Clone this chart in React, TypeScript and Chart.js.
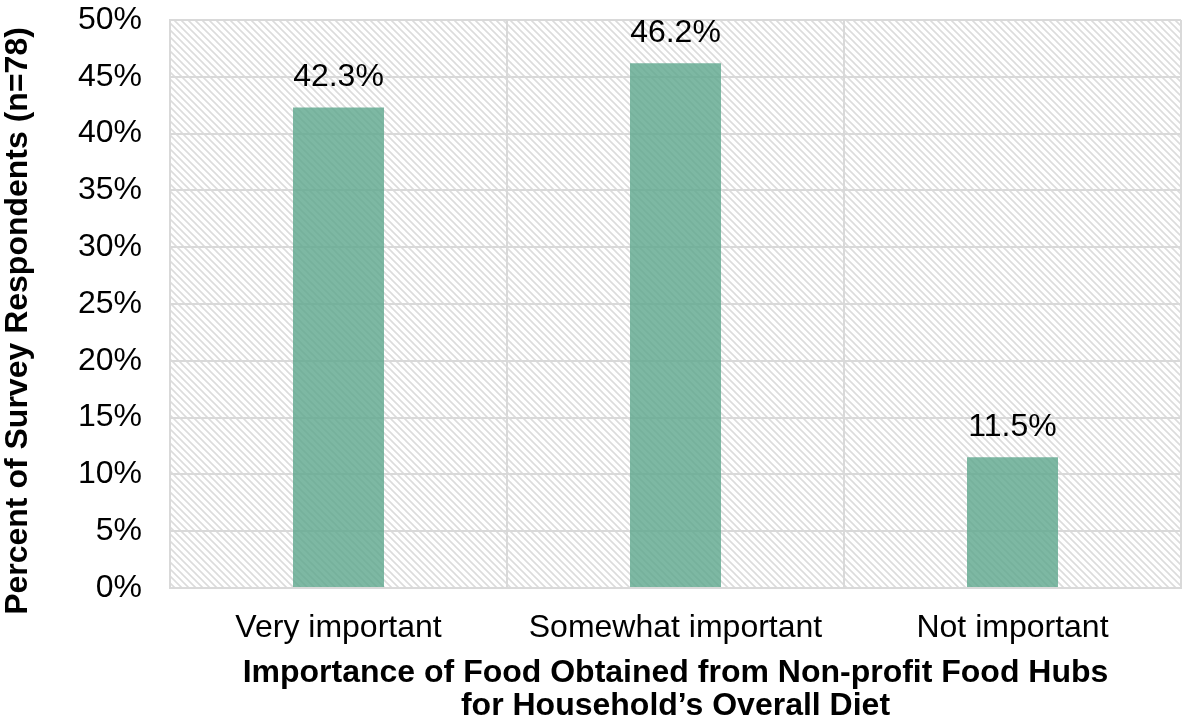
import React, { useEffect, useRef } from "react";
import { Chart, registerables } from "chart.js";

Chart.register(...registerables);

const categories = ["Very important", "Somewhat important", "Not important"];
const values = [42.3, 46.2, 11.5];
const yTicks = [0, 5, 10, 15, 20, 25, 30, 35, 40, 45, 50];
const yTitle = "Percent of Survey Respondents (n=78)";
const xTitle = ["Importance of Food Obtained from Non-profit Food Hubs", "for Household\u2019s Overall Diet"];

const FONT = "'Liberation Sans', Arial, Helvetica, sans-serif";
const FS = 32;

function makeHatch(): CanvasPattern | string {
  const size = 7;
  const c = document.createElement("canvas");
  c.width = size;
  c.height = size;
  const ctx = c.getContext("2d");
  if (!ctx) return "#fff";
  ctx.fillStyle = "#ffffff";
  ctx.fillRect(0, 0, size, size);
  ctx.strokeStyle = "#dcdcdc";
  ctx.lineWidth = 1.6;
  ctx.beginPath();
  for (let k = -1; k <= 1; k++) {
    ctx.moveTo(k * size - 2, -2);
    ctx.lineTo(k * size + size + 2, size + 2);
  }
  ctx.stroke();
  const p = ctx.createPattern(c, "repeat");
  return p || "#fff";
}

export default function App() {
  const ref = useRef<HTMLCanvasElement>(null);
  useEffect(() => {
    document.body.style.margin = "0";
    if (!ref.current) return;
    const hatch = makeHatch();
    const bgPlugin = {
      id: "hatchBg",
      beforeDraw(chart: any) {
        const { ctx, chartArea } = chart;
        ctx.save();
        ctx.fillStyle = hatch;
        ctx.fillRect(chartArea.left, chartArea.top, chartArea.right - chartArea.left, chartArea.bottom - chartArea.top);
        ctx.restore();
      },
    };
    const labelPlugin = {
      id: "valLabels",
      afterDatasetsDraw(chart: any) {
        const { ctx } = chart;
        const meta = chart.getDatasetMeta(0);
        ctx.save();
        ctx.font = `${FS}px ${FONT}`;
        ctx.fillStyle = "#000";
        ctx.textAlign = "center";
        ctx.textBaseline = "alphabetic";
        meta.data.forEach((bar: any, i: number) => {
          ctx.fillText(values[i].toFixed(1) + "%", bar.x, bar.y - 21);
        });
        ctx.restore();
      },
    };
    const yTitlePlugin = {
      id: "yTitleText",
      afterDraw(chart: any) {
        const { ctx } = chart;
        ctx.save();
        ctx.translate(27, 321);
        ctx.rotate(-Math.PI / 2);
        ctx.font = `bold ${FS}px ${FONT}`;
        ctx.fillStyle = "#000";
        ctx.textAlign = "center";
        ctx.textBaseline = "alphabetic";
        ctx.fillText(yTitle, 0, 0);
        ctx.restore();
      },
    };
    const chart = new Chart(ref.current, {
      type: "bar",
      data: {
        labels: categories,
        datasets: [
          {
            data: values,
            backgroundColor: "rgba(92,166,140,0.8)",
            borderWidth: 0,
            barPercentage: 0.27,
            categoryPercentage: 1,
          },
        ],
      },
      options: {
        animation: false,
        responsive: false,
        devicePixelRatio: 1,
        layout: { padding: { top: 0, right: 3, left: 0, bottom: 0 } },
        plugins: { legend: { display: false }, tooltip: { enabled: false } },
        scales: {
          x: {
            afterFit: (axis: any) => {
              axis.height = 132;
            },
            grid: { color: "#d9d9d9", lineWidth: 2, drawTicks: false, offset: true },
            border: { color: "#d9d9d9", width: 2 },
            ticks: { color: "#000", font: { family: FONT, size: FS }, padding: 21 },
            title: {
              display: true,
              text: xTitle,
              color: "#000",
              font: { family: FONT, size: FS, weight: "bold", lineHeight: 33 / FS },
              padding: { top: 0, bottom: -3 },
            },
          },
          y: {
            min: 0,
            max: 50,
            afterBuildTicks: (axis: any) => {
              axis.ticks = yTicks.map((v) => ({ value: v }));
            },
            afterFit: (axis: any) => {
              axis.width = 170;
              axis.paddingTop = 20;
            },
            grid: { color: "#d9d9d9", lineWidth: 2, drawTicks: false },
            border: { color: "#d9d9d9", width: 2 },
            ticks: {
              color: "#000",
              font: { family: FONT, size: FS },
              padding: 28,
              callback: (v: any) => v + "%",
            },
            title: { display: false },
          },
        },
      },
      plugins: [bgPlugin, labelPlugin, yTitlePlugin],
    });
    return () => chart.destroy();
  }, []);
  return (
    <div style={{ width: 1184, height: 720, background: "#fff" }}>
      <canvas ref={ref} width={1184} height={720} style={{ width: 1184, height: 720, display: "block" }} />
    </div>
  );
}
